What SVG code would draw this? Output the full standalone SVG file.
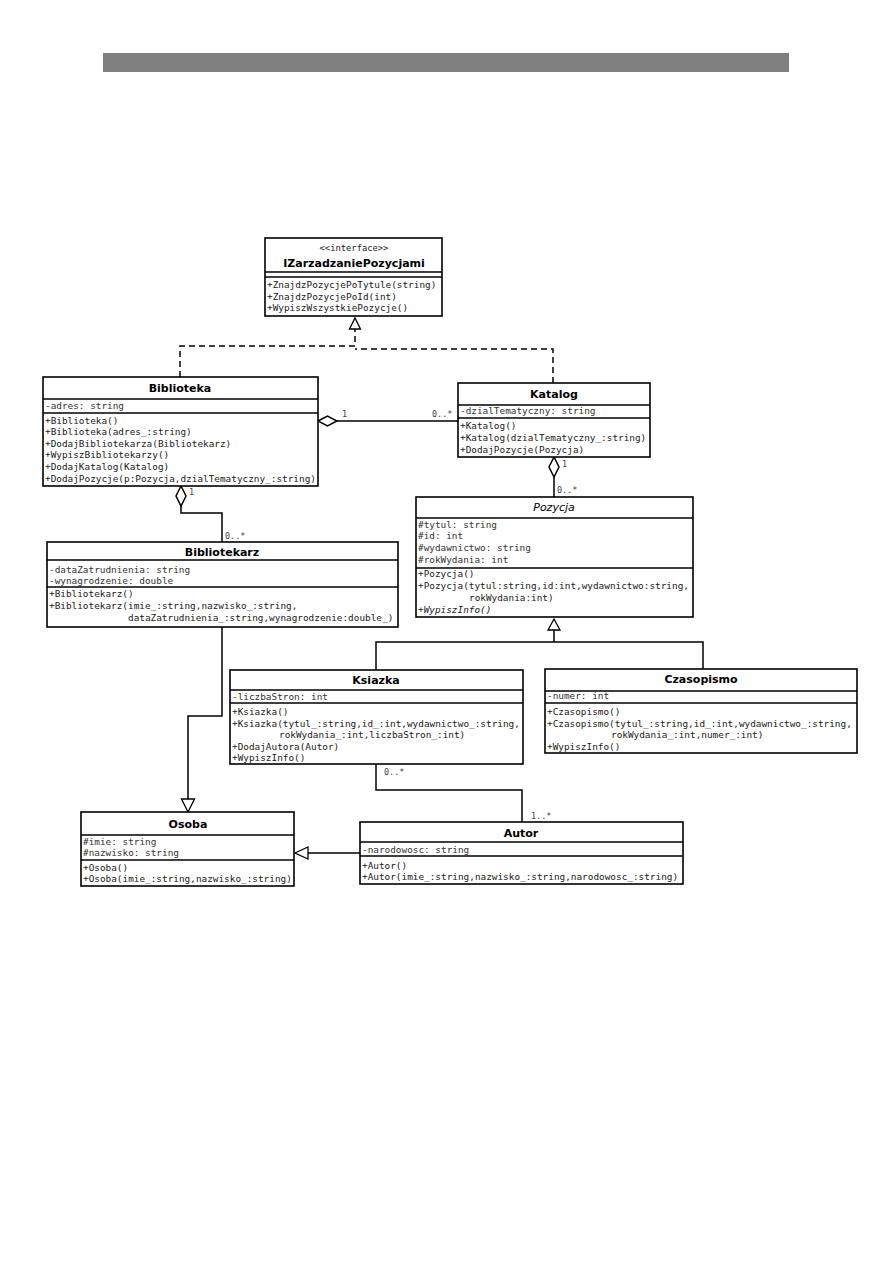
<svg xmlns="http://www.w3.org/2000/svg" width="893" height="1263" viewBox="0 0 893 1263">
<style>
.box{fill:#fff;stroke:#000;stroke-width:1.6}
.sep{stroke:#000;stroke-width:1.4}
.t{font-family:"DejaVu Sans Mono","Liberation Mono",monospace;font-size:9.4px;fill:#1a1a1a}
.a{font-family:"DejaVu Sans Mono","Liberation Mono",monospace;font-size:9.4px;fill:#333}
.h{font-family:"DejaVu Sans","Liberation Sans",sans-serif;font-size:11px;font-weight:bold;fill:#000;text-anchor:middle}
.hi{font-family:"DejaVu Sans","Liberation Sans",sans-serif;font-size:11px;font-style:italic;fill:#000;text-anchor:middle}
.ti{font-style:italic}
.st{font-family:"DejaVu Sans Mono","Liberation Mono",monospace;font-size:8.8px;fill:#222;text-anchor:middle}
.lbl{font-family:"DejaVu Sans Mono","Liberation Mono",monospace;font-size:8.5px;fill:#444}
.ln{fill:none;stroke:#000;stroke-width:1.5}
.dash{fill:none;stroke:#000;stroke-width:1.5;stroke-dasharray:6 4}
.tri{fill:#fff;stroke:#000;stroke-width:1.3}
.dia{fill:#fff;stroke:#000;stroke-width:1.5}
</style>
<rect x="103" y="53" width="686" height="19" fill="#808080"/>

<g id="connectors">
  <path class="dash" d="M180,377 V346 H355 V329"/>
  <path class="dash" d="M553,383 V349 H355"/>
  <polygon class="tri" points="355,318 349.5,329 360.5,329"/>
  <path class="ln" d="M337,421 H458"/>
  <polygon class="dia" points="318,421 327.5,416 337,421 327.5,426"/>
  <text class="lbl" x="342" y="417">1</text>
  <text class="lbl" x="432" y="417">0..*</text>
  <path class="ln" d="M554,477 V497"/>
  <polygon class="dia" points="554,457 549,467 554,477 559,467"/>
  <text class="lbl" x="562" y="467">1</text>
  <text class="lbl" x="557" y="493">0..*</text>
  <path class="ln" d="M181,506 V513 H222 V542"/>
  <polygon class="dia" points="181,486 176,496 181,506 186,496"/>
  <text class="lbl" x="189" y="495">1</text>
  <text class="lbl" x="225" y="539">0..*</text>
  <path class="ln" d="M554,630 V642 M376,670 V642 H703 V669"/>
  <polygon class="tri" points="554,619 548,630 560,630"/>
  <path class="ln" d="M222,627 V716 H188 V799"/>
  <polygon class="tri" points="188,812 181.5,799 194.5,799"/>
  <path class="ln" d="M376,764 V790 H522 V822"/>
  <text class="lbl" x="384" y="775">0..*</text>
  <text class="lbl" x="531" y="819">1..*</text>
  <path class="ln" d="M360,853 H308"/>
  <polygon class="tri" points="295,853 308,847 308,859"/>
</g>

<g id="IZarzadzaniePozycjami">
  <rect class="box" x="265" y="238" width="177" height="78"/>
  <text class="st" x="354" y="251">&lt;&lt;interface&gt;&gt;</text>
  <text class="h" x="354" y="267">IZarzadzaniePozycjami</text>
  <line class="sep" x1="265" y1="272" x2="442" y2="272"/>
  <line class="sep" x1="265" y1="277" x2="442" y2="277"/>
  <text class="t" x="267" y="288">+ZnajdzPozycjePoTytule(string)</text>
  <text class="t" x="267" y="299.5">+ZnajdzPozycjePoId(int)</text>
  <text class="t" x="267" y="311">+WypiszWszystkiePozycje()</text>
</g>

<g id="Biblioteka">
  <rect class="box" x="43" y="377" width="275" height="109"/>
  <text class="h" x="180" y="392">Biblioteka</text>
  <line class="sep" x1="43" y1="399" x2="318" y2="399"/>
  <text class="a" x="45" y="409">-adres: string</text>
  <line class="sep" x1="43" y1="413" x2="318" y2="413"/>
  <text class="t" x="45" y="423.5">+Biblioteka()</text>
  <text class="t" x="45" y="435">+Biblioteka(adres_:string)</text>
  <text class="t" x="45" y="446.5">+DodajBibliotekarza(Bibliotekarz)</text>
  <text class="t" x="45" y="458">+WypiszBibliotekarzy()</text>
  <text class="t" x="45" y="470">+DodajKatalog(Katalog)</text>
  <text class="t" x="45" y="481.5">+DodajPozycje(p:Pozycja,dzialTematyczny_:string)</text>
</g>

<g id="Katalog">
  <rect class="box" x="458" y="383" width="192" height="74"/>
  <text class="h" x="554" y="398">Katalog</text>
  <line class="sep" x1="458" y1="405" x2="650" y2="405"/>
  <text class="a" x="460" y="414">-dzialTematyczny: string</text>
  <line class="sep" x1="458" y1="418" x2="650" y2="418"/>
  <text class="t" x="460" y="429">+Katalog()</text>
  <text class="t" x="460" y="441">+Katalog(dzialTematyczny_:string)</text>
  <text class="t" x="460" y="452.5">+DodajPozycje(Pozycja)</text>
</g>

<g id="Pozycja">
  <rect class="box" x="416" y="497" width="277" height="120"/>
  <text class="hi" x="554" y="511">Pozycja</text>
  <line class="sep" x1="416" y1="518" x2="693" y2="518"/>
  <text class="a" x="418" y="527.5">#tytul: string</text>
  <text class="a" x="418" y="539">#id: int</text>
  <text class="a" x="418" y="551">#wydawnictwo: string</text>
  <text class="a" x="418" y="562.5">#rokWydania: int</text>
  <line class="sep" x1="416" y1="568" x2="693" y2="568"/>
  <text class="t" x="418" y="576.5">+Pozycja()</text>
  <text class="t" x="418" y="588.5">+Pozycja(tytul:string,id:int,wydawnictwo:string,</text>
  <text class="t" x="469" y="600.5">rokWydania:int)</text>
  <text class="t ti" x="418" y="612.5">+WypiszInfo()</text>
</g>

<g id="Bibliotekarz">
  <rect class="box" x="47" y="542" width="351" height="85"/>
  <text class="h" x="222" y="556">Bibliotekarz</text>
  <line class="sep" x1="47" y1="560" x2="398" y2="560"/>
  <text class="a" x="49" y="572.5">-dataZatrudnienia: string</text>
  <text class="a" x="49" y="584">-wynagrodzenie: double</text>
  <line class="sep" x1="47" y1="587" x2="398" y2="587"/>
  <text class="t" x="49" y="597">+Bibliotekarz()</text>
  <text class="t" x="49" y="609">+Bibliotekarz(imie_:string,nazwisko_:string,</text>
  <text class="t" x="128" y="621">dataZatrudnienia_:string,wynagrodzenie:double_)</text>
</g>

<g id="Ksiazka">
  <rect class="box" x="230" y="670" width="293" height="94"/>
  <text class="h" x="376" y="684">Ksiazka</text>
  <line class="sep" x1="230" y1="690" x2="523" y2="690"/>
  <text class="a" x="232" y="699.5">-liczbaStron: int</text>
  <line class="sep" x1="230" y1="703" x2="523" y2="703"/>
  <text class="t" x="232" y="715">+Ksiazka()</text>
  <text class="t" x="232" y="726.5">+Ksiazka(tytul_:string,id_:int,wydawnictwo_:string,</text>
  <text class="t" x="279" y="738">rokWydania_:int,liczbaStron_:int)</text>
  <text class="t" x="232" y="749.5">+DodajAutora(Autor)</text>
  <text class="t" x="232" y="761">+WypiszInfo()</text>
</g>

<g id="Czasopismo">
  <rect class="box" x="545" y="669" width="312" height="84"/>
  <text class="h" x="701" y="683">Czasopismo</text>
  <line class="sep" x1="545" y1="691" x2="857" y2="691"/>
  <text class="a" x="547" y="699">-numer: int</text>
  <line class="sep" x1="545" y1="703" x2="857" y2="703"/>
  <text class="t" x="547" y="715">+Czasopismo()</text>
  <text class="t" x="547" y="726.5">+Czasopismo(tytul_:string,id_:int,wydawnictwo_:string,</text>
  <text class="t" x="611" y="738">rokWydania_:int,numer_:int)</text>
  <text class="t" x="547" y="749.5">+WypiszInfo()</text>
</g>

<g id="Osoba">
  <rect class="box" x="81" y="812" width="213" height="74"/>
  <text class="h" x="188" y="828">Osoba</text>
  <line class="sep" x1="81" y1="835" x2="294" y2="835"/>
  <text class="a" x="83" y="844.5">#imie: string</text>
  <text class="a" x="83" y="855.5">#nazwisko: string</text>
  <line class="sep" x1="81" y1="860" x2="294" y2="860"/>
  <text class="t" x="83" y="870.5">+Osoba()</text>
  <text class="t" x="83" y="881.5">+Osoba(imie_:string,nazwisko_:string)</text>
</g>

<g id="Autor">
  <rect class="box" x="360" y="822" width="323" height="62"/>
  <text class="h" x="521" y="837">Autor</text>
  <line class="sep" x1="360" y1="842" x2="683" y2="842"/>
  <text class="a" x="362" y="853">-narodowosc: string</text>
  <line class="sep" x1="360" y1="856" x2="683" y2="856"/>
  <text class="t" x="362" y="869">+Autor()</text>
  <text class="t" x="362" y="880">+Autor(imie_:string,nazwisko_:string,narodowosc_:string)</text>
</g>
</svg>
